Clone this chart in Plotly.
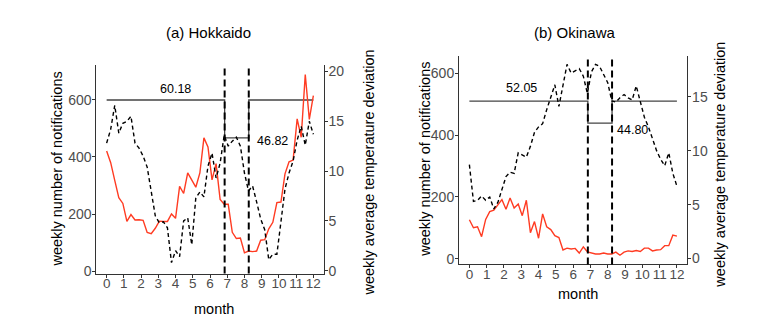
import plotly.graph_objects as go

# ---------------- data ----------------
weeks = list(range(52))
month_pos = [round(w * 12 / 51, 4) for w in weeks]
month_ticks = list(range(13))

hk_cases = [421, 380, 318, 257, 237, 174, 198, 179, 180, 178, 135, 131, 150,
            175, 174, 174, 200, 185, 297, 272, 344, 318, 294, 344, 467, 435,
            320, 377, 251, 234, 234, 136, 114, 116, 64, 70, 68, 70, 108, 110,
            148, 171, 240, 242, 341, 383, 389, 534, 469, 689, 532, 615]
hk_temp = [12.8, 14.2, 16.6, 13.8, 14.8, 15.0, 15.5, 12.8, 12.3, 11.5, 10.4, 7.8,
           5.5, 4.8, 4.9, 4.3, 0.8, 2.0, 1.4, 5.0, 5.3, 2.6, 7.3, 7.9, 7.4, 10.5,
           11.8, 9.3, 10.8, 13.6, 12.5, 13.0, 13.4, 12.5, 9.8, 8.0, 8.5, 6.9, 5.2,
           4.1, 1.1, 1.65, 1.65, 4.9, 8.2, 9.8, 11.0, 13.1, 14.5, 12.6, 15.0, 13.7]

ok_cases = [126, 100, 103, 71, 127, 152, 157, 175, 191, 160, 196, 164, 177,
            139, 189, 84, 120, 66, 145, 103, 94, 74, 68, 28, 34, 31, 33, 18,
            38, 22, 18, 15, 15, 18, 15, 15, 21, 11, 21, 25, 23, 26, 23, 34, 34,
            25, 28, 29, 42, 42, 76, 73]
ok_temp = [8.7, 5.3, 5.4, 5.8, 5.4, 5.7, 4.6, 5.2, 6.4, 7.6, 8.0, 7.9, 9.8, 9.6,
           9.4, 10.4, 11.7, 12.2, 12.5, 13.8, 15.0, 16.1, 14.1, 16.1, 18.0, 17.2,
           17.4, 17.6, 16.9, 15.3, 17.3, 18.0, 17.8, 17.0, 16.3, 14.6, 14.5, 14.9,
           15.2, 14.9, 14.7, 16.0, 14.6, 13.1, 12.2, 11.0, 10.0, 9.2, 8.6, 9.8,
           7.9, 6.7]

period_start = 6.85
period_end = 8.25
hk_rate_out, hk_rate_in = 60.18, 46.82
ok_rate_out, ok_rate_in = 52.05, 44.80
hk_level_out = 600
ok_level_out = 510
hk_level_in = hk_level_out * hk_rate_in / hk_rate_out
ok_level_in = ok_level_out * ok_rate_in / ok_rate_out

# ---------------- styling ----------------
W, H = 773, 330
FONT = "Liberation Sans, Arial, sans-serif"
RED = "#FF3B22"
STEP = "#444444"
AXC = "#333333"
TICKC = "#4d4d4d"


def px_x(p):
    return p / W


def px_y(p):
    return 1 - p / H


fig = go.Figure()


def step_xy(level_out, level_in):
    xs = [0, period_start, period_start, period_end, period_end, 12]
    ys = [level_out, level_out, level_in, level_in, level_out, level_out]
    return xs, ys


for xa, ya, ya2, cases, temp, lo, li in [
        ("x", "y", "y2", hk_cases, hk_temp, hk_level_out, hk_level_in),
        ("x2", "y3", "y4", ok_cases, ok_temp, ok_level_out, ok_level_in)]:
    sx, sy = step_xy(lo, li)
    fig.add_trace(go.Scatter(x=sx, y=sy, mode="lines", xaxis=xa, yaxis=ya,
                             line=dict(color=STEP, width=1.3),
                             showlegend=False, hoverinfo="skip"))
    fig.add_trace(go.Scatter(x=month_pos, y=cases, mode="lines", xaxis=xa, yaxis=ya,
                             line=dict(color=RED, width=1.4), showlegend=False))
    fig.add_trace(go.Scatter(x=month_pos, y=temp, mode="lines", xaxis=xa, yaxis=ya2,
                             line=dict(color="black", width=1.4, dash="4px,3px"),
                             showlegend=False))
    for xv in (period_start, period_end):
        fig.add_shape(type="line", xref=xa, yref=ya + " domain", x0=xv, x1=xv,
                      y0=0, y1=1, line=dict(color="black", width=2, dash="7px,4px"))

common_x = dict(range=[-0.6, 12.6], tickvals=month_ticks, showline=True,
                linecolor=AXC, linewidth=1, ticks="outside", ticklen=3,
                tickcolor=AXC, tickfont=dict(size=13.5, color=TICKC, family=FONT),
                ticklabelstandoff=-6, tickangle=0,
                showgrid=False, zeroline=False)
common_y = dict(showline=True, linecolor=AXC, linewidth=1, ticks="outside",
                ticklen=3, tickcolor=AXC, ticklabelstandoff=-2,
                tickfont=dict(size=14, color=TICKC, family=FONT),
                showgrid=False, zeroline=False)

fig.update_layout(
    width=W, height=H,
    margin=dict(l=0, r=0, t=0, b=0),
    paper_bgcolor="white", plot_bgcolor="white",
    font=dict(family=FONT, color="black"),
    xaxis=dict(domain=[88.3 / W, 315.7 / W], anchor="y", **common_x),
    yaxis=dict(domain=[px_y(269.3), px_y(56.7)], anchor="x", range=[-9, 721],
               tickvals=[0, 200, 400, 600], **common_y),
    yaxis2=dict(overlaying="y", side="right", anchor="x", range=[-0.3, 20.6],
                tickvals=[0, 5, 10, 15, 20], **common_y),
    xaxis2=dict(domain=[451 / W, 679.3 / W], anchor="y3", **common_x),
    yaxis3=dict(domain=[px_y(260), px_y(46.7)], anchor="x2", range=[-19, 657],
                tickvals=[0, 200, 400, 600], **common_y),
    yaxis4=dict(overlaying="y3", side="right", anchor="x2", range=[-0.55, 18.8],
                tickvals=[0, 5, 10, 15], **common_y),
)

ann = []
# panel titles
ann.append(dict(text="(a) Hokkaido", x=px_x(200), y=px_y(23)))
ann.append(dict(text="(b) Okinawa", x=px_x(567), y=px_y(23)))
for a in ann:
    a.update(xref="paper", yref="paper", showarrow=False, xanchor="center",
             yanchor="middle", font=dict(size=15, color="black", family=FONT))

titles = [
    ("month", 206, 305, 0),
    ("month", 570, 290, 0),
    ("weekly number of notifications", 49, 163, -90),
    ("weekly number of notifications", 417, 153, -90),
    ("weekly average temperature deviation", 361, 166, -90),
    ("weekly average temperature deviation", 712, 158, -90),
]
for t, xp, yp, ang in titles:
    ann.append(dict(text=t, x=px_x(xp), y=px_y(yp), xref="paper", yref="paper",
                    showarrow=False, xanchor="center", yanchor="middle",
                    textangle=ang, font=dict(size=14.5, color="black", family=FONT)))

# rate labels in data coordinates
for txt, xa, ya, xv, yv in [
        (f"{hk_rate_out:.2f}", "x", "y", 4.0, 638),
        (f"{hk_rate_in:.2f}", "x", "y", 9.63, 456),
        (f"{ok_rate_out:.2f}", "x2", "y3", 3.0, 552),
        (f"{ok_rate_in:.2f}", "x2", "y3", 9.42, 416)]:
    ann.append(dict(text=txt, x=xv, y=yv, xref=xa, yref=ya, showarrow=False,
                    xanchor="center", yanchor="middle",
                    font=dict(size=12.5, color="black", family=FONT)))

fig.update_layout(annotations=ann)
fig.write_html("out.html")
